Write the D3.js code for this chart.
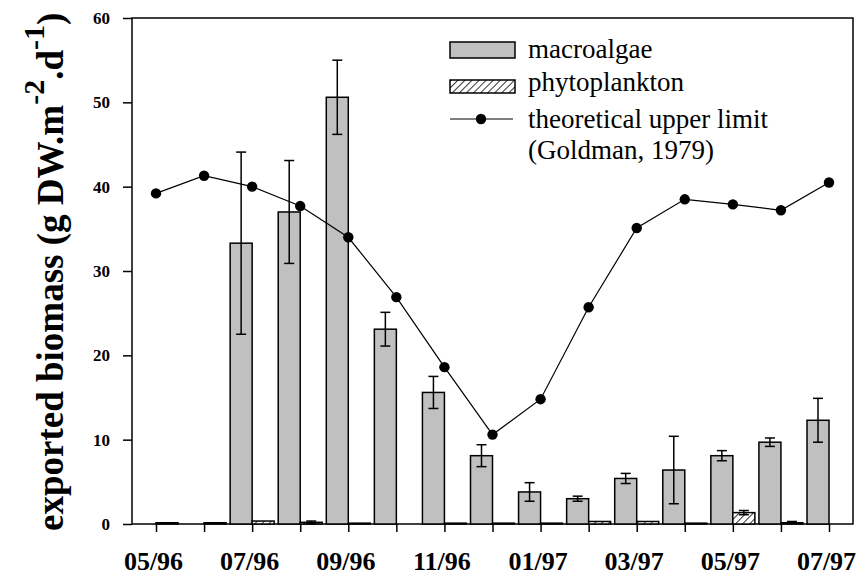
<!DOCTYPE html>
<html>
<head>
<meta charset="utf-8">
<script src="https://cdn.jsdelivr.net/npm/d3@7"></script>
<style>
  html, body { margin: 0; padding: 0; background: #fff; }
  svg { display: block; }
</style>
</head>
<body>
<svg id="chart" width="863" height="576"></svg>
<script>
// ---- data ----
const months = ["05/96","06/96","07/96","08/96","09/96","10/96","11/96","12/96","01/97","02/97","03/97","04/97","05/97","06/97","07/97"];
const macroalgae = [0, 0, 33.3, 37.0, 50.6, 23.1, 15.6, 8.1, 3.8, 3.0, 5.4, 6.4, 8.1, 9.7, 12.3];
const macroalgaeErr = [0, 0, 10.8, 6.1, 4.4, 2.0, 1.9, 1.3, 1.1, 0.3, 0.6, 4.0, 0.6, 0.5, 2.6];
const phytoplankton = [0.15, 0.15, 0.35, 0.2, 0.1, 0, 0.1, 0.1, 0.1, 0.3, 0.3, 0.1, 1.35, 0.15, 0];
const phytoplanktonErr = [0, 0, 0, 0.15, 0, 0, 0, 0, 0, 0, 0, 0, 0.25, 0.15, 0];
const upperLimit = [39.2, 41.3, 40.0, 37.7, 34.0, 26.9, 18.6, 10.6, 14.8, 25.7, 35.1, 38.5, 37.9, 37.2, 40.5];
const yTicks = [0, 10, 20, 30, 40, 50, 60];
const labelledMonths = ["05/96","07/96","09/96","11/96","01/97","03/97","05/97","07/97"];
const legendLabels = ["macroalgae", "phytoplankton", "theoretical upper limit", "(Goldman, 1979)"];

// ---- layout ----
const FONT = "'Liberation Serif', 'Times New Roman', serif";
const svg = d3.select("#chart");
const mLeft = 132, mRight = 853, mTop = 18, mBottom = 524;
const bw = 22;

const x = d3.scalePoint().domain(months).range([156, 829]);
const y = d3.scaleLinear().domain([0, 60]).range([mBottom, mTop]);

// hatch pattern
const defs = svg.append("defs");
const pat = defs.append("pattern")
  .attr("id", "hatch").attr("patternUnits", "userSpaceOnUse")
  .attr("width", 5).attr("height", 5)
  .attr("patternTransform", "rotate(45)");
pat.append("rect").attr("width", 5).attr("height", 5).attr("fill", "#fff");
pat.append("line").attr("x1", 0).attr("y1", 0).attr("x2", 0).attr("y2", 5)
  .attr("stroke", "#000").attr("stroke-width", 1.6);

// frame
svg.append("rect").attr("x", mLeft).attr("y", mTop)
  .attr("width", mRight - mLeft).attr("height", mBottom - mTop)
  .attr("fill", "none").attr("stroke", "#000").attr("stroke-width", 1.5);

// axes
const yAxis = svg.append("g").attr("transform", `translate(${mLeft},0)`)
  .call(d3.axisLeft(y).tickValues(yTicks).tickSize(9).tickPadding(13).tickFormat(d3.format("d")));
yAxis.attr("font-family", null);
yAxis.select(".domain").remove();
yAxis.selectAll("line").attr("stroke-width", 1.5);
yAxis.selectAll("text")
  .style("font-family", FONT)
  .style("font-size", "17px").style("font-weight", "bold").attr("fill", "#000");

const xAxis = svg.append("g").attr("transform", `translate(0,${mBottom})`)
  .call(d3.axisBottom(x).tickSize(8).tickFormat(d => labelledMonths.includes(d) ? d : ""));
xAxis.attr("font-family", null);
xAxis.select(".domain").remove();
xAxis.selectAll("line").attr("stroke-width", 1.5);
xAxis.selectAll("text")
  .style("font-family", FONT)
  .style("font-size", "26px").style("font-weight", "bold").attr("fill", "#000")
  .attr("y", 46).attr("dy", 0).attr("dx", -3);

// bars
const gM = svg.append("g");
months.forEach((m, i) => {
  if (macroalgae[i] > 0) {
    gM.append("rect")
      .attr("x", x(m) - bw).attr("y", y(macroalgae[i]))
      .attr("width", bw).attr("height", y(0) - y(macroalgae[i]))
      .attr("fill", "#c0c0c0").attr("stroke", "#000").attr("stroke-width", 1.5);
  }
  if (phytoplankton[i] > 0) {
    gM.append("rect")
      .attr("x", x(m)).attr("y", y(phytoplankton[i]))
      .attr("width", bw).attr("height", y(0) - y(phytoplankton[i]))
      .attr("fill", "url(#hatch)").attr("stroke", "#000").attr("stroke-width", 1.5);
  }
});

// error bars
function errBar(cx, v, e) {
  if (e <= 0) return;
  const g = svg.append("g").attr("stroke", "#000").attr("stroke-width", 1.5);
  g.append("line").attr("x1", cx).attr("x2", cx).attr("y1", y(v + e)).attr("y2", y(Math.max(0, v - e)));
  g.append("line").attr("x1", cx - 5).attr("x2", cx + 5).attr("y1", y(v + e)).attr("y2", y(v + e));
  if (v - e > 0) g.append("line").attr("x1", cx - 5).attr("x2", cx + 5).attr("y1", y(v - e)).attr("y2", y(v - e));
}
months.forEach((m, i) => {
  errBar(x(m) - bw / 2, macroalgae[i], macroalgaeErr[i]);
  errBar(x(m) + bw / 2, phytoplankton[i], phytoplanktonErr[i]);
});

// theoretical upper limit line
const line = d3.line().x((d, i) => x(months[i])).y(d => y(d));
svg.append("path").datum(upperLimit).attr("d", line)
  .attr("fill", "none").attr("stroke", "#000").attr("stroke-width", 1.2);
svg.append("g").selectAll("circle").data(upperLimit).join("circle")
  .attr("cx", (d, i) => x(months[i])).attr("cy", d => y(d)).attr("r", 5.2).attr("fill", "#000");

// legend
const lg = svg.append("g");
lg.append("rect").attr("x", 450).attr("y", 42).attr("width", 65).attr("height", 16)
  .attr("fill", "#c0c0c0").attr("stroke", "#000").attr("stroke-width", 1.5);
lg.append("rect").attr("x", 450).attr("y", 80).attr("width", 65).attr("height", 13)
  .attr("fill", "url(#hatch)").attr("stroke", "#000").attr("stroke-width", 1.5);
lg.append("line").attr("x1", 450).attr("x2", 513).attr("y1", 119).attr("y2", 119)
  .attr("stroke", "#000").attr("stroke-width", 1.2);
lg.append("circle").attr("cx", 481).attr("cy", 119).attr("r", 5.2).attr("fill", "#000");
const legendY = [58, 91, 128, 159];
legendLabels.forEach((t, i) => {
  lg.append("text").attr("x", 528).attr("y", legendY[i])
    .style("font-family", FONT)
    .style("font-size", "27px").attr("fill", "#000").text(t);
});

// y axis title
const title = svg.append("text")
  .attr("transform", "translate(63,531) rotate(-90)")
  .attr("x", 0).attr("y", 0)
  .style("font-family", FONT)
  .style("font-size", "37px").style("font-weight", "bold").attr("fill", "#000");
title.append("tspan").text("exported biomass (g DW.m");
title.append("tspan").attr("dy", -19).style("font-size", "30px").text("-2");
title.append("tspan").attr("dy", 19).text(".d");
title.append("tspan").attr("dy", -19).style("font-size", "30px").text("-1");
title.append("tspan").attr("dy", 19).text(")");
</script>
</body>
</html>
